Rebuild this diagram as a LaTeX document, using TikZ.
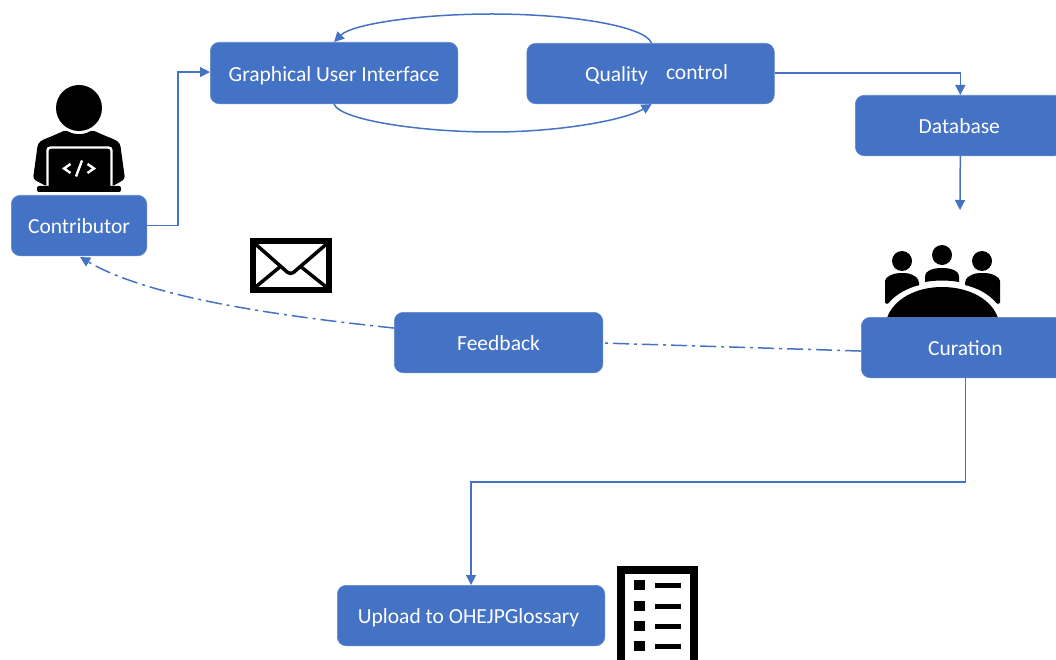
\documentclass[tikz,border=0pt]{standalone}
\usepackage{fontspec}
\setmainfont{Carlito}
\usetikzlibrary{arrows.meta,positioning,calc}
\definecolor{blu}{HTML}{4472C4}
\tikzset{
  boxn/.style={draw=blu!85!white,line width=0.6pt,fill=blu,rounded corners=9pt,text=white,font=\fontsize{21.5}{25}\selectfont,inner sep=0pt,anchor=north west,text height=20pt,text depth=4pt},
  lab/.style={text=white,font=\fontsize{21.5}{25}\selectfont,inner sep=0pt},
  conn/.style={draw=blu,line width=1.5pt,-{Triangle[length=10pt,width=10pt]}},
  ddot/.style={draw=blu,line width=1.5pt,dash pattern=on 16pt off 5pt on 3pt off 5pt},
}
\begin{document}
\begin{tikzpicture}[x=1pt,y=-1pt]
\useasboundingbox (0,0) rectangle (1056,660);
% icons
\fill (79,108) circle (23);
\fill[rounded corners=3pt] (33,179) -- (37,150) .. controls (38,142) and (42,140) .. (50,137) -- (66,130) .. controls (74,135) and (84,135) .. (92,130) -- (108,137) .. controls (116,140) and (120,142) .. (121,150) -- (125,179) -- (113,186) -- (46,186) -- cycle;
\draw[white,line width=2.4pt,rounded corners=3pt] (47.5,186) -- (47.5,147.5) -- (111.5,147.5) -- (111.5,186);
\fill[rounded corners=2pt] (37,186) rectangle (121,192);
\draw[white,line width=2.4pt] (70.5,164) -- (64,168.5) -- (70.5,173);
\draw[white,line width=2.4pt] (87.5,164) -- (94,168.5) -- (87.5,173);
\draw[white,line width=2.4pt] (82,160.5) -- (76,176.5);
% envelope
\draw[line width=6pt] (253,241) rectangle (329,289.5);
\draw[line width=3.5pt,rounded corners=4pt] (252,241) -- (290.5,275) -- (330,241);
\draw[line width=3.5pt] (252,290) -- (281,266);
\draw[line width=3.5pt] (330,290) -- (300,266);
% team
\fill (902,261) circle (10);
\fill (942,255) circle (10);
\fill (982,261) circle (10);
\fill[rounded corners=2pt] (885,304) -- (885,283) .. controls (885,277) and (893,273) .. (902,273) .. controls (910,273) and (916,276) .. (919,281) -- (919,300) -- (885,304) -- cycle;
\fill[rounded corners=2pt] (1000,304) -- (1000,283) .. controls (1000,277) and (992,273) .. (982,273) .. controls (974,273) and (968,276) .. (965,281) -- (965,300) -- (1000,304) -- cycle;
\fill (925,282) -- (925,277) .. controls (925,270) and (934,268) .. (942,268) .. controls (950,268) and (959,270) .. (959,277) -- (959,282) .. controls (948,280) and (936,280) .. (925,282) -- cycle;
\draw[white,line width=9pt] (884,322) .. controls (890,298) and (915,287) .. (942,287) .. controls (970,287) and (995,298) .. (1001,322);
\fill (887,318) .. controls (893,300) and (915,287) .. (942,287) .. controls (970,287) and (992,300) .. (998,318) -- cycle;
% list
\draw[line width=8pt] (621,570) rectangle (694,670);
\foreach \y in {580,601,621,641}{
  \fill (634,\y) rectangle (644.5,\y+10);
  \fill (655,\y+3) rectangle (681,\y+8);
}
% boxes
\node[boxn,minimum width=135.5pt,minimum height=60.5pt] (contrib) at (11,195) {Contributor};
\node[boxn,minimum width=247.5pt,minimum height=61.5pt] (gui) at (210,42) {Graphical User Interface};
\node[boxn,minimum width=247.5pt,minimum height=60.5pt] (qc) at (526.5,43) {};
\node[lab] (qlab) at (616.5,75.5) {Quality};
\node[lab] (clab) at (697,72) {control};
\node[boxn,minimum width=208pt,minimum height=60.5pt] (db) at (855,95) {Database};
\node[boxn,minimum width=208pt,minimum height=60.5pt] (cur) at (861,317) {Curation};
\node[boxn,minimum width=208.5pt,minimum height=60.5pt] (fb) at (394,312) {Feedback};
\node[boxn,minimum width=267.5pt,minimum height=60.5pt] (up) at (337,585) {\hspace*{-5pt}Upload to OHEJPGlossary};
\coordinate (dbend) at (960,210);
\coordinate (contribtip) at (80,257);
% connectors
\draw[conn] (contrib.east) -- ++(31,0) |- ($(gui.west)+(0,-1)$);
\draw[conn] ($(qc.east)+(0,-0.5)$) -| ($(db.north)+(1,0)$);
\draw[conn] ($(db.south)+(1,0)$) -- (dbend);
\draw[conn] (cur.south) -- ++(0,104) -| (up.north);
\draw[conn] ($(qc.north)+(1,0)$) .. controls (645,26) and (570,14) .. (492,14) .. controls (420,14) and (352,24) .. (gui.north);
\draw[conn] (gui.south) .. controls (340,120) and (420,132) .. (492,132) .. controls (560,132) and (625,120) .. ($(qc.south)+(1,0)$);
\draw[ddot] ($(cur.west)+(0,3.5)$) -- ($(fb.east)+(0,0.5)$);
\draw[ddot,-{Triangle[length=10pt,width=10pt]}] ($(fb.west)+(0,-14.5)$) .. controls (280,316) and (150,298) .. (contribtip);
\end{tikzpicture}
\end{document}
